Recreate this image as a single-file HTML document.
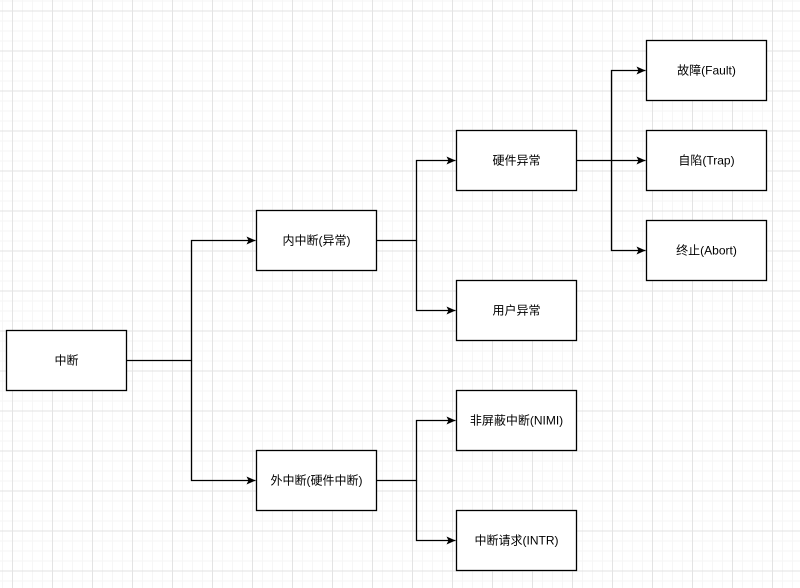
<!DOCTYPE html>
<html><head><meta charset="utf-8"><style>
html,body{margin:0;padding:0;background:#fff;}
svg{display:block;}
text{font-family:"Liberation Sans","Noto Sans CJK SC",sans-serif;font-size:12px;fill:#000;}
</style></head><body>
<svg width="800" height="588" viewBox="0 0 800 588" xmlns="http://www.w3.org/2000/svg">
<defs>
<pattern id="minor" x="2" y="0.5" width="10" height="10" patternUnits="userSpaceOnUse">
<path d="M0.5 0 V10 M0 0.5 H10" stroke="#f6f6f6" stroke-width="1" fill="none"/>
</pattern>
<pattern id="major" x="12" y="10.5" width="40" height="40" patternUnits="userSpaceOnUse">
<path d="M0.5 0 V40 M0 0.5 H40" stroke="#e3e3e3" stroke-width="1" fill="none"/>
</pattern>
<marker id="ar" markerWidth="10" markerHeight="10" refX="9" refY="5" orient="auto" markerUnits="userSpaceOnUse">
<path d="M0,1 L9,5 L0,9 L2,5 Z" fill="#000"/>
</marker>
</defs>
<rect width="800" height="588" fill="#fff"/>
<rect width="800" height="588" fill="url(#minor)"/>
<rect width="800" height="588" fill="url(#major)"/>

<g stroke="#000" stroke-width="1.3" fill="none">
<path d="M126.5 360.5 H191.5 V240.5 H255.5" marker-end="url(#ar)"/>
<path d="M191.5 360.5 V480.5 H255.5" marker-end="url(#ar)"/>
<path d="M376.5 240.5 H416.5 V160.5 H455.5" marker-end="url(#ar)"/>
<path d="M416.5 240.5 V310.5 H455.5" marker-end="url(#ar)"/>
<path d="M376.5 480.5 H416.5 V420.5 H455.5" marker-end="url(#ar)"/>
<path d="M416.5 480.5 V540.5 H455.5" marker-end="url(#ar)"/>
<path d="M576.5 160.5 H645.5" marker-end="url(#ar)"/>
<path d="M611.5 160.5 V70.5 H645.5" marker-end="url(#ar)"/>
<path d="M611.5 160.5 V250.5 H645.5" marker-end="url(#ar)"/>
</g>

<g stroke="#000" stroke-width="1.3" fill="#fff">
<rect x="6.5" y="330.5" width="120" height="60"/>
<rect x="256.5" y="210.5" width="120" height="60"/>
<rect x="256.5" y="450.5" width="120" height="60"/>
<rect x="456.5" y="130.5" width="120" height="60"/>
<rect x="456.5" y="280.5" width="120" height="60"/>
<rect x="456.5" y="390.5" width="120" height="60"/>
<rect x="456.5" y="510.5" width="120" height="60"/>
<rect x="646.5" y="40.5" width="120" height="60"/>
<rect x="646.5" y="130.5" width="120" height="60"/>
<rect x="646.5" y="220.5" width="120" height="60"/>
</g>

<g text-anchor="middle">
<text x="66.5" y="364.5">中断</text>
<text x="316.5" y="244.5">内中断(异常)</text>
<text x="316.5" y="484.5">外中断(硬件中断)</text>
<text x="516.5" y="164.5">硬件异常</text>
<text x="516.5" y="314.5">用户异常</text>
<text x="516.5" y="424.5">非屏蔽中断(NIMI)</text>
<text x="516.5" y="544.5">中断请求(INTR)</text>
<text x="706.5" y="74.5">故障(Fault)</text>
<text x="706.5" y="164.5">自陷(Trap)</text>
<text x="706.5" y="254.5">终止(Abort)</text>
</g>
</svg>
</body></html>
